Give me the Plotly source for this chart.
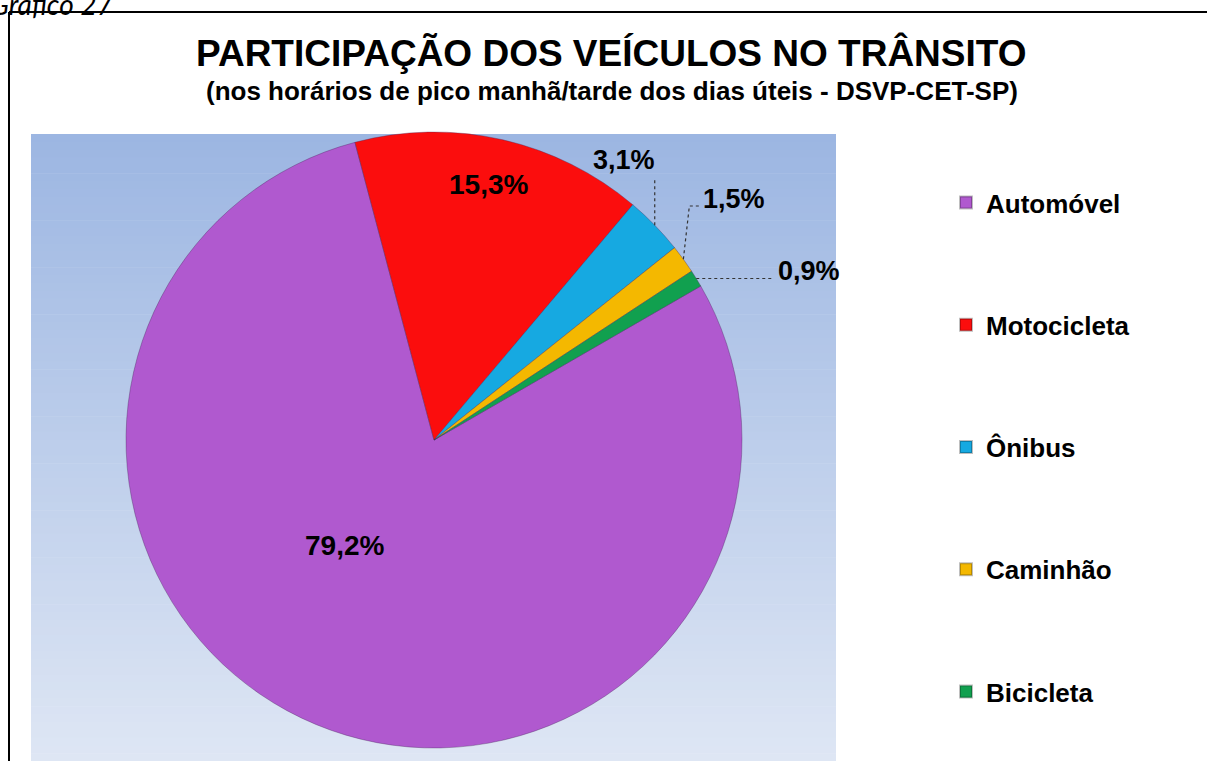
import math
import plotly.graph_objects as go

# Vehicle share in peak-hour traffic (%)
categories = ["Automóvel", "Motocicleta", "Ônibus", "Caminhão", "Bicicleta"]
shares = [79.2, 15.3, 3.1, 1.5, 0.9]
colors = ["#b059cf", "#fb0d0d", "#16a9e1", "#f4b800", "#11a04f"]

W, H = 1207, 761

def px_x(v):
    return v / W

def px_y(v):
    return 1 - v / H

def fmt(v):
    return f"{v:.1f}%".replace(".", ",")

fig = go.Figure()

# gradient panel behind the pie
panel_x0, panel_x1, panel_y0, panel_y1 = 31, 836, 134, 761
top_rgb = (156, 182, 226)
bot_rgb = (222, 230, 244)
bands = 80
for i in range(bands):
    t = i / (bands - 1)
    c = tuple(round(a + (b - a) * t) for a, b in zip(top_rgb, bot_rgb))
    y0 = panel_y0 + (panel_y1 - panel_y0) * i / bands
    y1 = panel_y0 + (panel_y1 - panel_y0) * (i + 1) / bands + 0.6
    fig.add_shape(type="rect", xref="paper", yref="paper",
                  x0=px_x(panel_x0), x1=px_x(panel_x1), y0=px_y(y1), y1=px_y(y0),
                  fillcolor=f"rgb{c}", line_width=0, layer="below")

# frame (left and top edges)
fig.add_shape(type="line", xref="paper", yref="paper",
              x0=px_x(9), x1=px_x(9), y0=0, y1=px_y(12),
              line=dict(color="black", width=2))
fig.add_shape(type="line", xref="paper", yref="paper",
              x0=px_x(9), x1=1, y0=px_y(12), y1=px_y(12),
              line=dict(color="black", width=2))

# pie geometry (pixels)
cx, cy, r = 434, 440, 308
rotation = 60

fig.add_trace(go.Pie(
    labels=categories, values=shares, sort=False, direction="clockwise",
    rotation=rotation,
    marker=dict(colors=colors, line=dict(color="rgba(70,40,90,0.45)", width=0.8)),
    textinfo="none",
    domain=dict(x=[px_x(cx - r), px_x(cx + r)], y=[px_y(cy + r), px_y(cy - r)]),
    showlegend=False, hoverinfo="label+percent",
))

# legend entries
for name, col in zip(categories, colors):
    fig.add_trace(go.Scatter(
        x=[None], y=[None], mode="markers", name=name, legendgroup=name,
        marker=dict(symbol="square", size=15, color=col,
                    line=dict(color="rgba(0,0,0,0.25)", width=1)),
        showlegend=True, hoverinfo="skip",
    ))

# slice mid-angles, used to anchor leader lines on the rim
total = sum(shares)
start = rotation
mids = []
for v in shares:
    span = 360 * v / total
    mids.append(start + span / 2)
    start += span

def edge(idx):
    a = math.radians(mids[idx])
    return cx + r * math.sin(a), cy - r * math.cos(a)

big_font = dict(family="Liberation Sans", size=28, color="black", weight="bold")
label_font = dict(family="Liberation Sans", size=27, color="black", weight="bold")
dot = dict(color="#333333", width=1.2, dash="dot")

# labels inside the two large slices
fig.add_annotation(x=px_x(345), y=px_y(545), xref="paper", yref="paper",
                   xanchor="center", yanchor="middle",
                   text=fmt(shares[0]), showarrow=False, font=big_font)
fig.add_annotation(x=px_x(488), y=px_y(185), xref="paper", yref="paper",
                   xanchor="center", yanchor="middle",
                   text=fmt(shares[1]), showarrow=False, font=big_font)

# Ônibus
ex, ey = edge(2)
fig.add_shape(type="line", xref="paper", yref="paper",
              x0=px_x(ex), x1=px_x(ex), y0=px_y(ey), y1=px_y(178), line=dot)
fig.add_annotation(x=px_x(ex - 31), y=px_y(160), xref="paper", yref="paper",
                   xanchor="center", yanchor="middle",
                   text=fmt(shares[2]), showarrow=False, font=label_font)
# Caminhão
ex, ey = edge(3)
fig.add_shape(type="path", xref="paper", yref="paper",
              path=f"M {px_x(ex)} {px_y(ey)} L {px_x(ex + 6)} {px_y(206)} L {px_x(ex + 16)} {px_y(206)}",
              line=dot)
fig.add_annotation(x=px_x(ex + 18), y=px_y(199), xref="paper", yref="paper",
                   xanchor="left", yanchor="middle",
                   text=fmt(shares[3]), showarrow=False, font=label_font)
# Bicicleta
ex, ey = edge(4)
fig.add_shape(type="path", xref="paper", yref="paper",
              path=f"M {px_x(ex)} {px_y(ey)} L {px_x(773)} {px_y(ey)}",
              line=dot)
fig.add_annotation(x=px_x(776), y=px_y(ey - 8), xref="paper", yref="paper",
                   xanchor="left", yanchor="middle",
                   text=fmt(shares[4]), showarrow=False, font=label_font)

# titles
fig.add_annotation(x=px_x(611), y=px_y(53), xref="paper", yref="paper",
                   xanchor="center", yanchor="middle",
                   text="PARTICIPAÇÃO DOS VEÍCULOS NO TRÂNSITO", showarrow=False,
                   font=dict(family="Liberation Sans", size=37, color="black", weight="bold"))
fig.add_annotation(x=px_x(612), y=px_y(91), xref="paper", yref="paper",
                   xanchor="center", yanchor="middle",
                   text="(nos horários de pico manhã/tarde dos dias úteis - DSVP-CET-SP)",
                   showarrow=False,
                   font=dict(family="Liberation Sans", size=26, color="black", weight="bold"))
fig.add_annotation(x=px_x(-12), y=px_y(4), xref="paper", yref="paper",
                   xanchor="left", yanchor="middle", text="Gráfico 27", showarrow=False,
                   font=dict(family="Lato", size=28, color="black", style="italic"))

fig.update_layout(
    width=W, height=H, margin=dict(l=0, r=0, t=0, b=0),
    paper_bgcolor="white", plot_bgcolor="rgba(0,0,0,0)",
    xaxis=dict(visible=False, domain=[0.9, 0.95]),
    yaxis=dict(visible=False, domain=[0.9, 0.95]),
    legend=dict(x=px_x(946), y=px_y(179), xanchor="left", yanchor="top",
                tracegroupgap=85.5, itemsizing="constant",
                font=dict(family="Liberation Sans", size=26, color="black", weight="bold"),
                bgcolor="rgba(0,0,0,0)"),
)

fig.write_html("out.html")
